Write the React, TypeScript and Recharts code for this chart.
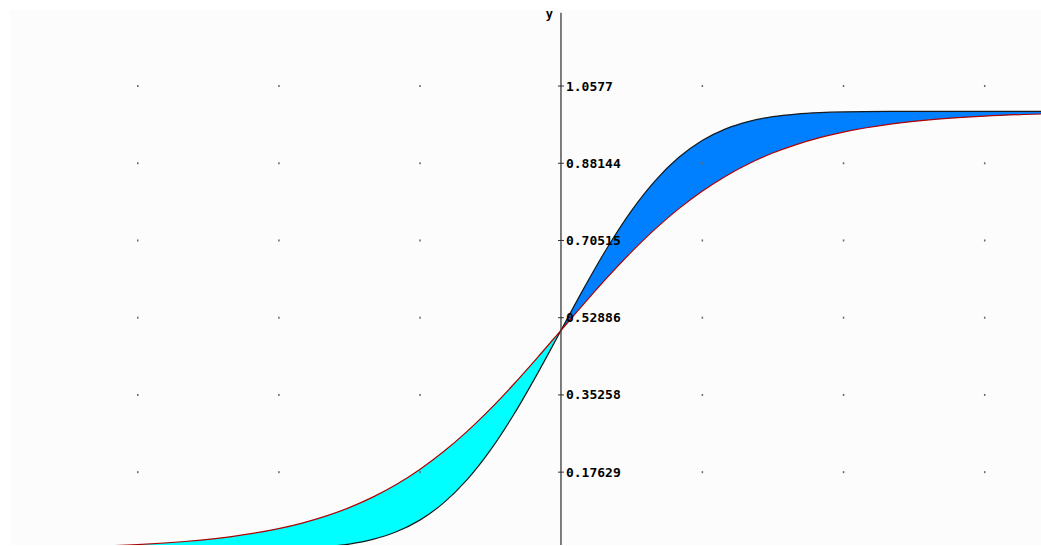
import { ComposedChart, Line, Area, XAxis, YAxis, ReferenceLine, ReferenceDot } from 'recharts';

// x positions of the sampled points
const xValues = [-6, -5.5, -5, -4.5, -4, -3.5, -3, -2.75, -2.5, -2.25, -2, -1.75, -1.5, -1.25, -1, -0.75, -0.5, -0.25, 0,
  0.25, 0.5, 0.75, 1, 1.25, 1.5, 1.75, 2, 2.25, 2.5, 2.75, 3, 3.5, 4, 4.5, 5, 5.5];

// red curve (the flatter one)
const redCurve = [0.0025, 0.0041, 0.0067, 0.011, 0.018, 0.0293, 0.0474, 0.0601, 0.0759, 0.0953, 0.1192, 0.148, 0.1824, 0.2227, 0.2689, 0.3208, 0.3775, 0.4378, 0.5,
  0.5622, 0.6225, 0.6792, 0.7311, 0.7773, 0.8176, 0.852, 0.8808, 0.9047, 0.9241, 0.9399, 0.9526, 0.9707, 0.982, 0.989, 0.9933, 0.9959];

// black curve (the steeper one)
const blackCurve = [0, 0, 0, 0, 0, 0.0002, 0.0013, 0.003, 0.0062, 0.0122, 0.0228, 0.0401, 0.0668, 0.1056, 0.1587, 0.2266, 0.3085, 0.4013, 0.5,
  0.5987, 0.6915, 0.7734, 0.8413, 0.8944, 0.9332, 0.9599, 0.9772, 0.9878, 0.9938, 0.997, 0.9987, 0.9998, 1, 1, 1, 1];

const yTicks = [0.17629, 0.35258, 0.52886, 0.70515, 0.88144, 1.0577];
const yTickLabels = ['0.17629', '0.35258', '0.52886', '0.70515', '0.88144', '1.0577'];
const gridX = [-4.5, -3, -1.5, 1.5, 3, 4.5];

const X_DOMAIN: [number, number] = [-5.855, 5.101];
const Y_DOMAIN: [number, number] = [0.01, 1.2541];
const AXIS_TOP = 1.225;

const data = xValues.map((x, i) => {
  const r = redCurve[i];
  const b = blackCurve[i];
  return {
    x,
    red: r,
    black: b,
    left: x <= 0 ? [b, r] : null,
    right: x >= 0 ? [r, b] : null,
  };
});

const font = '"DejaVu Sans Mono", monospace';

export default function App() {
  return (
    <div style={{ position: 'absolute', left: 10, top: 0, width: 1031, height: 545 }}>
      <div style={{ position: 'absolute', left: 0, top: 10, width: 1031, height: 535, background: '#fcfcfc' }} />
      <div style={{ position: 'absolute', left: 0, top: 0 }}>
        <ComposedChart width={1031} height={545} data={data} margin={{ top: 0, right: 0, bottom: 0, left: 0 }}>
          <XAxis dataKey="x" type="number" domain={X_DOMAIN} allowDataOverflow hide />
          <YAxis type="number" domain={Y_DOMAIN} allowDataOverflow hide />

          <Area type="monotone" dataKey="left" fill="#00ffff" fillOpacity={1} stroke="none" isAnimationActive={false} />
          <Area type="monotone" dataKey="right" fill="#0080ff" fillOpacity={1} stroke="none" isAnimationActive={false} />
          <Line type="monotone" dataKey="black" stroke="#1a1a1a" strokeWidth={1.2} dot={false} isAnimationActive={false} />
          <Line type="monotone" dataKey="red" stroke="#b00000" strokeWidth={1.2} dot={false} isAnimationActive={false} />

          {gridX.map((gx) =>
            yTicks.map((gy) => (
              <ReferenceDot
                key={`g${gx}_${gy}`}
                x={gx}
                y={gy}
                r={1}
                ifOverflow="visible"
                shape={(p: any) => <rect x={p.cx - 0.5} y={p.cy - 1} width={1.5} height={2} fill="#666" />}
              />
            ))
          )}

          <ReferenceLine
            segment={[{ x: 0, y: AXIS_TOP }, { x: 0, y: Y_DOMAIN[0] }]}
            stroke="#3a3a3a"
            strokeWidth={1.3}
            ifOverflow="visible"
          />

          {yTicks.map((v, i) => (
            <ReferenceDot
              key={`t${v}`}
              x={0}
              y={v}
              r={1}
              ifOverflow="visible"
              shape={(p: any) => (
                <g>
                  <line x1={p.cx - 3} x2={p.cx + 3} y1={p.cy} y2={p.cy} stroke="#333" strokeWidth={1} />
                  <text x={p.cx + 5} y={p.cy} dy="0.35em" fontFamily={font} fontWeight="bold" fontSize={13} fill="#000">
                    {yTickLabels[i]}
                  </text>
                </g>
              )}
            />
          ))}

          <ReferenceDot
            x={0}
            y={AXIS_TOP}
            r={1}
            ifOverflow="visible"
            shape={(p: any) => (
              <text x={p.cx - 8} y={p.cy + 5} textAnchor="end" fontFamily={font} fontWeight="bold" fontSize={12} fill="#000">
                y
              </text>
            )}
          />
        </ComposedChart>
      </div>
    </div>
  );
}
